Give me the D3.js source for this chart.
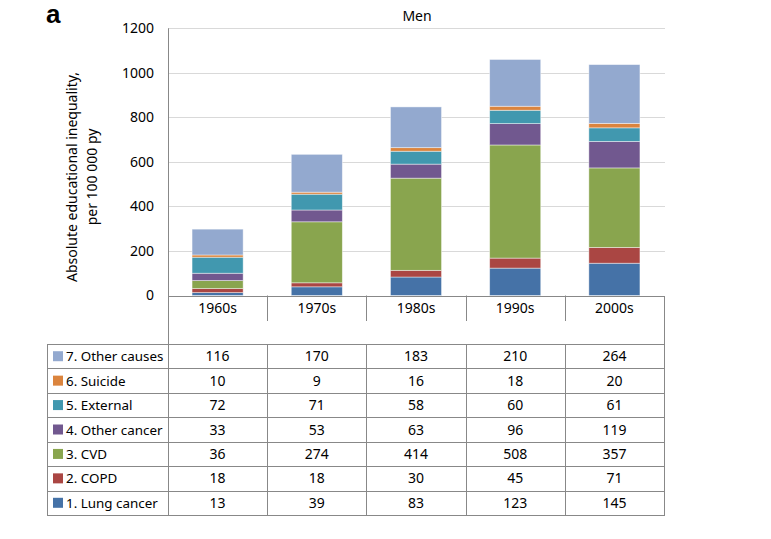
<!DOCTYPE html>
<html>
<head>
<meta charset="utf-8">
<script src="https://cdn.jsdelivr.net/npm/d3@7/dist/d3.min.js"></script>
<style>
  html, body { margin: 0; padding: 0; background: #fff; }
  svg { display: block; }
  text { font-family: "Noto Sans", "Open Sans", sans-serif; fill: #000; }
</style>
</head>
<body>
<svg id="chart" width="771" height="539"></svg>
<script>
const categories = ["1960s", "1970s", "1980s", "1990s", "2000s"];
const seriesNames = ["1. Lung cancer", "2. COPD", "3. CVD", "4. Other cancer", "5. External", "6. Suicide", "7. Other causes"];
const lungCancer = [13, 39, 83, 123, 145];
const copd = [18, 18, 30, 45, 71];
const cvd = [36, 274, 414, 508, 357];
const otherCancer = [33, 53, 63, 96, 119];
const external = [72, 71, 58, 60, 61];
const suicide = [10, 9, 16, 18, 20];
const otherCauses = [116, 170, 183, 210, 264];
const yTicks = [0, 200, 400, 600, 800, 1000, 1200];
const colors = ["#4572A7", "#AA4643", "#89A54E", "#71588F", "#4198AF", "#DB843D", "#93A9CF"];

const seriesValues = [lungCancer, copd, cvd, otherCancer, external, suicide, otherCauses];

(function () {
const svg = d3.select("#chart");
const pLeft = 168, pRight = 664, pTop = 28.3, pBottom = 295.5;
const tableTop = 344, rowH = 24.43, legendLeft = 47, headerBottom = 321;
const fs = "14px";

const x = d3.scaleBand().domain(categories).range([pLeft, pRight]).padding(0);
const y = d3.scaleLinear().domain([0, 1200]).range([pBottom, pTop]);

// panel label
svg.append("text").attr("x", 46).attr("y", 23)
  .style("font-family", "'Liberation Sans', Arial, sans-serif")
  .style("font-weight", "bold").style("font-size", "26px").text("a");

// title
svg.append("text").attr("x", (pLeft + pRight) / 2 + 1).attr("y", 21)
  .attr("text-anchor", "middle").style("font-size", fs).text("Men");

// gridlines
svg.append("g").selectAll("line").data(yTicks.filter(d => d > 0)).join("line")
  .attr("x1", pLeft).attr("x2", pRight + 1)
  .attr("y1", d => Math.round(y(d)) + 0.5).attr("y2", d => Math.round(y(d)) + 0.5)
  .attr("stroke", "#d9d9d9").attr("stroke-width", 1);

// y axis labels
const yAxis = d3.axisLeft(y).tickValues(yTicks).tickFormat(d3.format("d")).tickSize(0).tickPadding(14);
const ya = svg.append("g").attr("transform", `translate(${pLeft},0)`).call(yAxis);
ya.select(".domain").remove();
ya.selectAll("text").style("font-size", fs).style("font-family", "'Noto Sans', sans-serif").attr("fill", "#000");

// y axis title
const yt = svg.append("text").attr("text-anchor", "middle").style("font-size", fs);
yt.append("tspan").attr("x", 0).attr("y", 0).text("Absolute educational inequality,");
yt.append("tspan").attr("x", 0).attr("y", 20).text("per 100 000 py");
yt.attr("transform", "translate(77,177) rotate(-90)");

// stacked data
const rows = categories.map((c, i) => {
  const o = { cat: c };
  seriesNames.forEach((s, j) => { o[s] = seriesValues[j][i]; });
  return o;
});
const stack = d3.stack().keys(seriesNames)(rows);
const barFrac = 0.515;
const bw = x.bandwidth() * barFrac;
const off = (x.bandwidth() - bw) / 2;

svg.append("g").selectAll("g").data(stack).join("g")
  .attr("fill", (d, i) => colors[i])
  .selectAll("rect").data(d => d).join("rect")
  .attr("x", d => x(d.data.cat) + off)
  .attr("width", bw)
  .attr("y", d => y(d[1]))
  .attr("height", d => y(d[0]) - y(d[1]))
  .attr("stroke", "rgba(255,255,255,0.55)").attr("stroke-width", 0.8);

// axis & table lines
const lineColor = "#888888";
const lines = svg.append("g").attr("stroke", lineColor).attr("stroke-width", 1).attr("fill", "none");
const tableBottom = tableTop + 7 * rowH;
lines.append("line").attr("x1", pLeft + 0.5).attr("x2", pLeft + 0.5).attr("y1", pTop).attr("y2", tableBottom);
lines.append("line").attr("x1", pLeft).attr("x2", pRight + 1).attr("y1", Math.round(pBottom) + 0.5).attr("y2", Math.round(pBottom) + 0.5);
lines.append("line").attr("x1", pRight + 0.5).attr("x2", pRight + 0.5).attr("y1", Math.round(pBottom)).attr("y2", tableBottom);
categories.slice(1).forEach(c => {
  const xx = Math.round(x(c)) + 0.5;
  lines.append("line").attr("x1", xx).attr("x2", xx).attr("y1", pBottom).attr("y2", headerBottom);
  lines.append("line").attr("x1", xx).attr("x2", xx).attr("y1", tableTop).attr("y2", tableBottom);
});
lines.append("line").attr("x1", legendLeft + 0.5).attr("x2", legendLeft + 0.5).attr("y1", tableTop).attr("y2", tableBottom);
d3.range(8).forEach(i => {
  const yy = Math.round(tableTop + i * rowH) + 0.5;
  lines.append("line").attr("x1", legendLeft).attr("x2", pRight + 1).attr("y1", yy).attr("y2", yy);
});

// category labels
svg.append("g").selectAll("text").data(categories).join("text")
  .attr("x", d => x(d) + x.bandwidth() / 2).attr("y", 313)
  .attr("text-anchor", "middle").style("font-size", fs).text(d => d);

// table rows: order 7 -> 1
const order = d3.range(seriesNames.length).reverse();
order.forEach((si, r) => {
  const cy = tableTop + r * rowH + rowH / 2;
  svg.append("rect").attr("x", 53).attr("y", cy - 5).attr("width", 10).attr("height", 10).attr("fill", colors[si]);
  svg.append("text").attr("x", 66).attr("y", cy + 5).style("font-size", "13.4px").text(seriesNames[si]);
  categories.forEach((c, ci) => {
    svg.append("text").attr("x", x(c) + x.bandwidth() / 2).attr("y", cy + 5)
      .attr("text-anchor", "middle").style("font-size", fs).text(seriesValues[si][ci]);
  });
});
})();
</script>
</body>
</html>
